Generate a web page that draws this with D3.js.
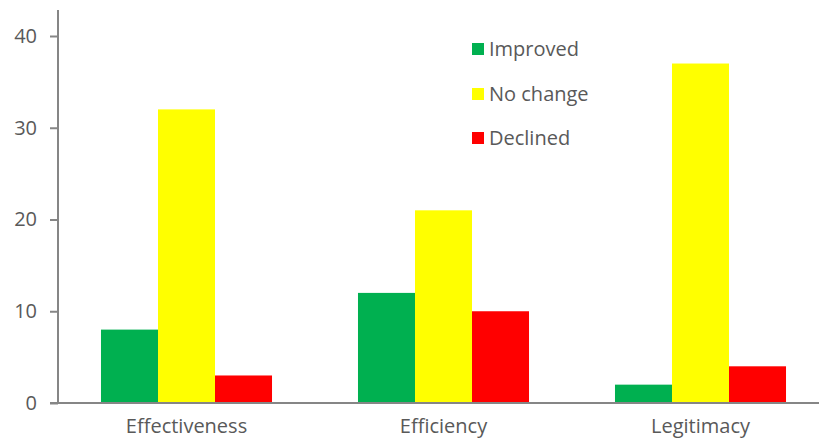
<!DOCTYPE html>
<html>
<head>
<meta charset="utf-8">
<script src="https://cdn.jsdelivr.net/npm/d3@7"></script>
<style>
  html, body { margin: 0; padding: 0; background: #fff; }
  svg { display: block; font-family: "Open Sans", "Noto Sans", sans-serif; }
</style>
</head>
<body>
<svg id="chart" width="819" height="442"></svg>
<script>
// Categories, series and values
const categories = ["Effectiveness", "Efficiency", "Legitimacy"];
const seriesNames = ["Improved", "No change", "Declined"];
const improved = [8, 12, 2];
const noChange = [32, 21, 37];
const declined = [3, 10, 4];
const yTicks = [0, 10, 20, 30, 40];
const colors = ["#00b050", "#ffff00", "#ff0000"];

const seriesValues = [improved, noChange, declined];
const data = categories.map((c, i) => ({
  category: c,
  values: seriesNames.map((s, j) => ({ series: s, value: seriesValues[j][i] }))
}));

const svg = d3.select("#chart");
const margin = { left: 58, top: 10, bottom: 39 };
const plotBottom = 442 - margin.bottom;

const x = d3.scaleBand()
  .domain(categories)
  .range([margin.left, margin.left + 3 * 257])
  .paddingInner(0)
  .paddingOuter(0);

const xInner = d3.scaleBand()
  .domain(seriesNames)
  .range([0, x.bandwidth()])
  .paddingInner(0)
  .paddingOuter(0.754);

const y = d3.scaleLinear()
  .domain([0, 40])
  .range([plotBottom, 36]);

const axisColor = "#868686";
const textColor = "#595959";

// Bars
const groups = svg.append("g")
  .selectAll("g")
  .data(data)
  .join("g")
  .attr("transform", d => `translate(${x(d.category)},0)`);

groups.selectAll("rect")
  .data(d => d.values)
  .join("rect")
  .attr("x", d => xInner(d.series))
  .attr("width", xInner.bandwidth())
  .attr("y", d => y(d.value))
  .attr("height", d => plotBottom - y(d.value))
  .attr("fill", (d, i) => colors[i]);

// Y axis
const yAxis = svg.append("g")
  .attr("transform", `translate(${margin.left},0)`)
  .call(d3.axisLeft(y).tickValues(yTicks).tickSize(8).tickPadding(13).tickSizeOuter(0));
yAxis.select(".domain").remove();
yAxis.append("line")
  .attr("x1", 0).attr("x2", 0)
  .attr("y1", margin.top).attr("y2", plotBottom)
  .attr("stroke", axisColor).attr("stroke-width", 2);
yAxis.selectAll(".tick line").attr("stroke", axisColor).attr("stroke-width", 2);
yAxis.selectAll(".tick text")
  .attr("fill", textColor)
  .style("font-size", "20px")
  .style("font-family", "'Open Sans', 'Noto Sans', sans-serif");

// X axis
const xAxis = svg.append("g")
  .attr("transform", `translate(0,${plotBottom})`)
  .call(d3.axisBottom(x).tickSize(0).tickPadding(16));
xAxis.select(".domain").remove();
xAxis.append("line")
  .attr("x1", margin.left - 8).attr("x2", 819)
  .attr("y1", 0).attr("y2", 0)
  .attr("stroke", axisColor).attr("stroke-width", 2);
xAxis.selectAll(".tick text")
  .attr("fill", textColor)
  .style("font-size", "20px")
  .style("font-family", "'Open Sans', 'Noto Sans', sans-serif");

// Legend
const legend = svg.append("g").attr("transform", "translate(472,0)");
const legendRows = [49, 94, 138];
seriesNames.forEach((s, i) => {
  const row = legend.append("g").attr("transform", `translate(0,${legendRows[i]})`);
  row.append("rect")
    .attr("x", 0).attr("y", -6)
    .attr("width", 12).attr("height", 12)
    .attr("fill", colors[i]);
  row.append("text")
    .attr("x", 17).attr("y", 0)
    .attr("dy", "0.35em")
    .attr("fill", textColor)
    .style("font-size", "20px")
    .text(s);
});
</script>
</body>
</html>
